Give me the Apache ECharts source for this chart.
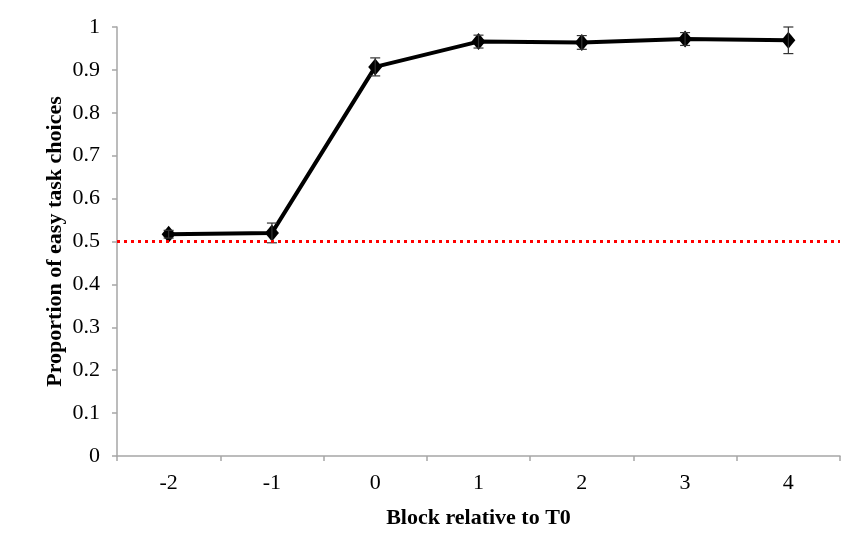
<!DOCTYPE html>
<html><head><meta charset="utf-8">
<script src="https://cdn.jsdelivr.net/npm/echarts@6/dist/echarts.min.js"></script>
<style>html,body{margin:0;padding:0;background:#fff}#c{width:854px;height:554px}</style>
</head><body><div id="c"></div>
<script>
const categories = ['-2','-1','0','1','2','3','4'];
const means = [0.517, 0.520, 0.907, 0.966, 0.964, 0.972, 0.969];
const errors = [0.009, 0.023, 0.021, 0.015, 0.016, 0.015, 0.031];
const yTicks = [0,0.1,0.2,0.3,0.4,0.5,0.6,0.7,0.8,0.9,1];
const chance = 0.5;

const chart = echarts.init(document.getElementById('c'));
const font = 'Liberation Serif';
chart.setOption({
  animation: false,
  grid: {left: 117, right: 14, top: 27, bottom: 98},
  xAxis: {
    type: 'category', data: categories, boundaryGap: true,
    name: 'Block relative to T0', nameLocation: 'middle', nameGap: 51, nameMoveOverlap: false,
    nameTextStyle: {fontFamily: font, fontWeight: 'bold', fontSize: 22, color: '#000'},
    axisLine: {lineStyle: {color: '#a6a6a6', width: 1.5}},
    axisTick: {show: true, length: 5, lineStyle: {color: '#a6a6a6', width: 1.5}},
    axisLabel: {fontFamily: font, fontSize: 22, color: '#000', margin: 16},
    splitLine: {show: false}
  },
  yAxis: {
    type: 'value', min: 0, max: 1, interval: 0.1,
    name: 'Proportion of easy task choices', nameLocation: 'middle', nameGap: 51, nameMoveOverlap: false,
    nameTextStyle: {fontFamily: font, fontWeight: 'bold', fontSize: 22, color: '#000'},
    axisLine: {show: true, lineStyle: {color: '#a6a6a6', width: 1.5}},
    axisTick: {show: true, length: 5, lineStyle: {color: '#a6a6a6', width: 1.5}},
    axisLabel: {fontFamily: font, fontSize: 22, color: '#000', margin: 17,
      formatter: v => { const t = yTicks.find(x => Math.abs(x - v) < 1e-9); return t === undefined ? '' : String(t); }},
    splitLine: {show: false}
  },
  series: [
    {
      type: 'line', data: means, symbol: 'diamond', symbolSize: [14, 17],
      lineStyle: {color: '#000', width: 4}, itemStyle: {color: '#000'}, z: 3,
      markLine: {
        silent: true, symbol: 'none', label: {show: false},
        lineStyle: {color: '#ff0000', type: [3, 4], width: 3},
        data: [{yAxis: chance}]
      }
    },
    {
      type: 'custom', z: 4,
      data: means.map((m, i) => [i, m - errors[i], m + errors[i]]),
      renderItem: (params, api) => {
        const lo = api.coord([api.value(0), api.value(1)]);
        const hi = api.coord([api.value(0), api.value(2)]);
        const w = 5;
        const st = {stroke: '#333', lineWidth: 1.2};
        return {type: 'group', children: [
          {type: 'line', shape: {x1: lo[0], y1: lo[1], x2: hi[0], y2: hi[1]}, style: st},
          {type: 'line', shape: {x1: lo[0]-w, y1: lo[1], x2: lo[0]+w, y2: lo[1]}, style: st},
          {type: 'line', shape: {x1: hi[0]-w, y1: hi[1], x2: hi[0]+w, y2: hi[1]}, style: st}
        ]};
      }
    }
  ]
});
</script></body></html>
